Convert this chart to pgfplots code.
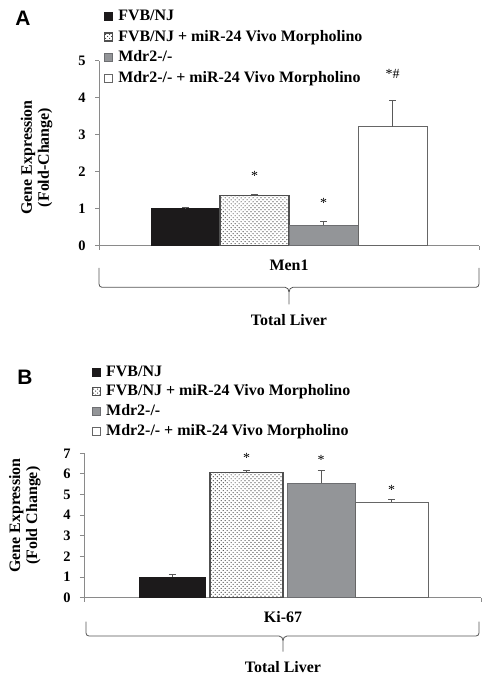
\documentclass[border=0pt]{standalone}
\usepackage{fontspec}
\setmainfont{Liberation Serif}
\newfontfamily\panelfont{Liberation Sans}
\usepackage{pgfplots}
\pgfplotsset{compat=1.18}
\usetikzlibrary{patterns}

\pgfdeclarepatternformonly{mydots}{\pgfqpoint{-1pt}{-1pt}}{\pgfqpoint{5pt}{5pt}}{\pgfqpoint{4pt}{4pt}}{%
  \pgfpathcircle{\pgfqpoint{0pt}{0pt}}{0.6pt}%
  \pgfpathcircle{\pgfqpoint{2pt}{2pt}}{0.6pt}%
  \pgfusepath{fill}}

\definecolor{barblack}{HTML}{1C1A1B}
\definecolor{bargray}{HTML}{939598}
\definecolor{bargrayedge}{HTML}{6D6E71}
\definecolor{axisgray}{HTML}{8A8A8A}
\definecolor{edgedark}{HTML}{505050}
\definecolor{bracegray}{HTML}{555555}

\pgfplotsset{
  panel/.style={
    scale only axis, enlargelimits=false,
    axis x line=bottom, axis y line=left,
    axis line style={-, draw=axisgray, line width=0.9pt},
    tick align=outside, major tick length=4bp,
    every tick/.style={draw=axisgray, line width=0.9pt},
    ybar, bar shift=0pt, clip=false,
    xticklabels={,,},
    yticklabels={0,1,2,3,4,5,6,7},
    yticklabel style={font=\bfseries\fontsize{14.5}{14.5}\selectfont, xshift=-6bp},
    ylabel style={font=\bfseries\fontsize{16}{17}\selectfont, align=center, anchor=center},
    legend cell align=left,
    legend style={draw=none, fill=none, inner sep=0pt, anchor=north west,
      font=\bfseries\fontsize{16}{17}\selectfont,
      nodes={inner sep=0pt, text height=11.5pt, text depth=3.5pt},
      /tikz/every odd column/.style={column sep=5bp}},
    legend image code/.code={\draw[#1] (0bp,-4bp) rectangle (8bp,4bp);},
  },
  myerr/.style={error bars/.cd, y dir=plus, y explicit,
    error bar style={line width=0.8pt, draw=black!65},
    error mark options={rotate=90, mark size=3.5bp, line width=0.8pt, draw=black!65}},
  s1/.style={fill=barblack, draw=barblack, line width=0.8pt},
  s2/.style={pattern=mydots, pattern color=black!80, draw=edgedark, line width=1.1pt},
  s3/.style={fill=bargray, draw=bargrayedge, line width=0.8pt},
  s4/.style={fill=white, draw=black!60, line width=0.9pt},
}

\begin{document}
\begin{tikzpicture}
\useasboundingbox (0,0) rectangle (491bp,682bp);

% Panel letters
\node[font=\panelfont\bfseries\fontsize{21}{21}\selectfont] at (23bp,664bp) {A};
\node[font=\panelfont\bfseries\fontsize{21}{21}\selectfont] at (25bp,305bp) {B};

% ---------------- Panel A ----------------
\begin{axis}[panel, at={(99bp,436.3bp)}, anchor=south west,
  width=380bp, height=185bp,
  xmin=0, xmax=380, ymin=0, ymax=5,
  ytick={0,1,2,3,4,5}, xtick={0,380},
  ylabel={Gene Expression\\(Fold-Change)},
  ylabel style={at={(axis description cs:-0.164,0.477)}},
  legend style={at={(axis description cs:0.0132,1.281)}, row sep=5.7bp},
]
\addplot[s1, bar width=69, myerr] coordinates {(86.5,1.00) +- (0,0.04)};
\addlegendentry{FVB/NJ}
\addplot[s2, bar width=69, myerr] coordinates {(155.5,1.36) +- (0,0.03)};
\addlegendentry{FVB/NJ + miR-24 Vivo Morpholino}
\addplot[s3, bar width=69, myerr] coordinates {(224.5,0.55) +- (0,0.11)};
\addlegendentry{Mdr2-/-}
\addplot[s4, bar width=69, myerr] coordinates {(293.5,3.21) +- (0,0.72)};
\addlegendentry{Mdr2-/- + miR-24 Vivo Morpholino}
\node[anchor=base, font=\fontsize{14}{14}\selectfont] at (axis cs:155.5,1.77) {*};
\node[anchor=base, font=\fontsize{14}{14}\selectfont] at (axis cs:224.5,1.035) {*};
\node[anchor=base, font=\fontsize{14}{14}\selectfont] at (axis cs:293.5,4.52) {*\#};
\end{axis}

\node[font=\bfseries\fontsize{16}{16}\selectfont] at (289bp,417bp) {Men1};
\draw[bracegray, line width=0.8pt]
  (99bp,414bp) -- (99bp,398bp) to[out=-90,in=180] (102bp,394.7bp) -- (285bp,394.7bp)
  to[out=0,in=90] (289bp,390bp) -- (289bp,377.7bp);
\draw[bracegray, line width=0.8pt]
  (479bp,414bp) -- (479bp,398bp) to[out=-90,in=0] (476bp,394.7bp) -- (293bp,394.7bp)
  to[out=180,in=90] (289bp,390bp);
\node[font=\bfseries\fontsize{16}{16}\selectfont] at (289bp,362bp) {Total Liver};

% ---------------- Panel B ----------------
\begin{axis}[panel, at={(84bp,84.3bp)}, anchor=south west,
  width=397bp, height=144.4bp,
  xmin=0, xmax=397, ymin=0, ymax=7,
  ytick={0,1,2,3,4,5,6,7}, xtick={0,397},
  ylabel={Gene Expression\\(Fold Change)},
  ylabel style={at={(axis description cs:-0.149,0.569)}},
  legend style={at={(axis description cs:0.020,1.615)}, row sep=4.7bp},
]
\addplot[s1, bar width=66, myerr] coordinates {(88,1.00) +- (0,0.13)};
\addlegendentry{FVB/NJ}
\addplot[s2, bar width=73, myerr] coordinates {(162.5,6.07) +- (0,0.11)};
\addlegendentry{FVB/NJ + miR-24 Vivo Morpholino}
\addplot[s3, bar width=68, myerr] coordinates {(237,5.55) +- (0,0.63)};
\addlegendentry{Mdr2-/-}
\addplot[s4, bar width=73, myerr] coordinates {(307.5,4.63) +- (0,0.13)};
\addlegendentry{Mdr2-/- + miR-24 Vivo Morpholino}
\node[anchor=base, font=\fontsize{14}{14}\selectfont] at (axis cs:162.5,6.56) {*};
\node[anchor=base, font=\fontsize{14}{14}\selectfont] at (axis cs:237,6.46) {*};
\node[anchor=base, font=\fontsize{14}{14}\selectfont] at (axis cs:307.5,4.99) {*};
\end{axis}

\node[font=\bfseries\fontsize{16}{16}\selectfont] at (283bp,65.3bp) {Ki-67};
\draw[bracegray, line width=0.8pt]
  (86bp,60.3bp) -- (86bp,49bp) to[out=-90,in=180] (89bp,46bp) -- (279bp,46bp)
  to[out=0,in=90] (283bp,41.5bp) -- (283bp,30.3bp);
\draw[bracegray, line width=0.8pt]
  (479bp,60.3bp) -- (479bp,49bp) to[out=-90,in=0] (476bp,46bp) -- (287bp,46bp)
  to[out=180,in=90] (283bp,41.5bp);
\node[font=\bfseries\fontsize{16}{16}\selectfont] at (283bp,15bp) {Total Liver};
\end{tikzpicture}
\end{document}
